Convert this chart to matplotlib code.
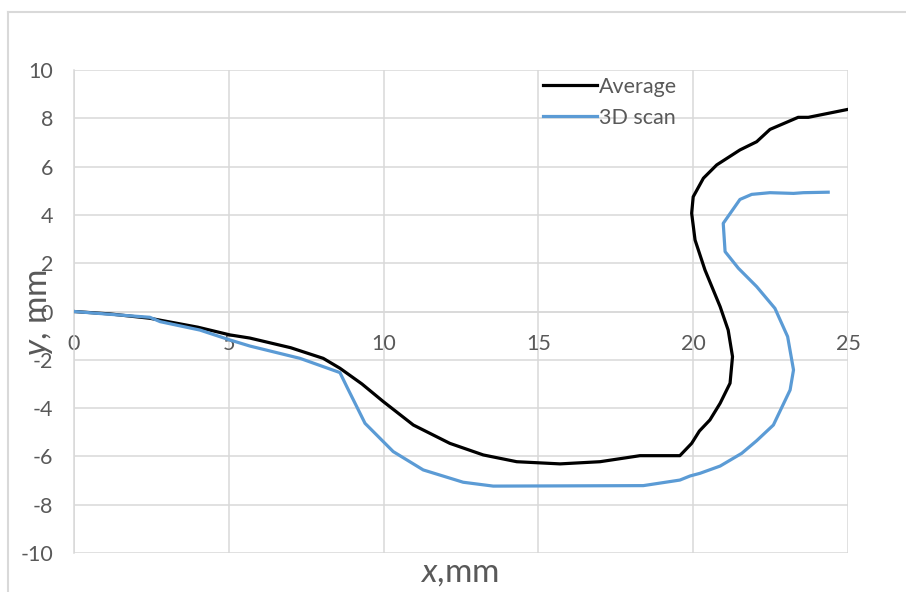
import matplotlib
matplotlib.use("Agg")
import matplotlib.pyplot as plt
from matplotlib.lines import Line2D

plt.rcParams['font.family'] = ['Lato', 'DejaVu Sans']
plt.rcParams['mathtext.fontset'] = 'custom'
plt.rcParams['mathtext.it'] = 'Lato:italic'
plt.rcParams['mathtext.rm'] = 'Lato'
plt.rcParams['axes.unicode_minus'] = False

# Average profile (black)
avg_x = [0, 1.16, 2.45, 4.0, 5.04, 5.68, 7.0, 8.05, 8.59, 9.3, 9.99, 10.96, 12.14, 13.22,
         14.30, 15.70, 16.99, 18.28, 19.57, 19.95, 20.20, 20.54, 20.87, 21.19, 21.27,
         21.13, 20.87, 20.38, 20.06, 19.95, 20.0, 20.33, 20.76, 21.51, 22.05, 22.48,
         23.39, 23.72, 25.0]
avg_y = [0, -0.10, -0.28, -0.65, -0.97, -1.10, -1.50, -1.94, -2.35, -3.0, -3.73, -4.70,
         -5.46, -5.94, -6.22, -6.31, -6.22, -5.97, -5.97, -5.46, -4.95, -4.49, -3.80,
         -2.97, -1.87, -0.77, 0.20, 1.72, 2.96, 4.07, 4.75, 5.52, 6.07, 6.69, 7.03,
         7.54, 8.04, 8.04, 8.37]

# 3D scan profile (blue)
scan_x = [0, 1.2, 2.45, 2.78, 4.07, 5.04, 5.68, 7.3, 8.59, 8.81, 9.40, 10.31, 11.28,
          12.57, 13.54, 18.39, 19.57, 19.9, 20.22, 20.87, 21.57, 22.05, 22.59, 23.13,
          23.24, 23.05, 22.64, 22.05, 21.46, 21.03, 20.97, 21.51, 21.89, 22.48, 23.24,
          23.56, 24.36]
scan_y = [0, -0.12, -0.24, -0.42, -0.77, -1.18, -1.43, -1.94, -2.53, -3.11, -4.63,
          -5.80, -6.56, -7.07, -7.23, -7.21, -6.98, -6.81, -6.70, -6.40, -5.87, -5.35,
          -4.70, -3.25, -2.42, -1.04, 0.13, 1.03, 1.79, 2.48, 3.65, 4.64, 4.85, 4.92,
          4.89, 4.92, 4.94]

gray = '#d9d9d9'
txt = '#595959'

fig = plt.figure(figsize=(9.06, 5.92), dpi=100)
ax = fig.add_axes([74 / 906, 1 - 553 / 592, (848 - 74) / 906, (553 - 70) / 592])

ax.plot(avg_x, avg_y, color='black', lw=2.3, label='Average', zorder=3)
ax.plot(scan_x, scan_y, color='#5b9bd5', lw=2.3, label='3D scan', zorder=3)

ax.set_xlim(0, 25)
ax.set_ylim(-10, 10)
ax.set_xticks(range(0, 26, 5))
ax.set_yticks(range(-10, 11, 2))
ax.grid(True, color=gray, lw=1.1)
ax.set_axisbelow(True)

for s in ['top', 'right']:
    ax.spines[s].set_visible(False)
ax.spines['bottom'].set_position(('data', 0))
ax.spines['bottom'].set_color(gray)
ax.spines['left'].set_color(gray)
ax.spines['bottom'].set_linewidth(1.1)
ax.spines['left'].set_linewidth(1.1)
ax.tick_params(axis='both', length=0, labelsize=15.5, labelcolor=txt)
ax.tick_params(axis='x', pad=16)
ax.tick_params(axis='y', pad=15)

leg = ax.legend(loc='upper left', bbox_to_anchor=(543 / 906, 1 - 77 / 592),
                bbox_transform=fig.transFigure, frameon=False, fontsize=15.5,
                handlelength=2.5, handletextpad=0.12, borderpad=0, borderaxespad=0,
                labelspacing=0.5)
for t in leg.get_texts():
    t.set_color(txt)

fig.text(459 / 906, 1 - 573 / 592, r'$\it{x}$,mm', fontsize=24, color=txt,
         ha='center', va='center')
fig.text(40 / 906, 1 - 313 / 592, r'$\it{y}$, mm', fontsize=24, color=txt,
         ha='center', va='center', rotation=90)

# outer chart border
fig.add_artist(Line2D([8 / 906, 8 / 906], [0, 1 - 12 / 592], color=gray, lw=1.5,
                      transform=fig.transFigure))
fig.add_artist(Line2D([8 / 906, 1], [1 - 12 / 592, 1 - 12 / 592], color=gray, lw=1.5,
                      transform=fig.transFigure))

fig.savefig('out.png', dpi=100)
